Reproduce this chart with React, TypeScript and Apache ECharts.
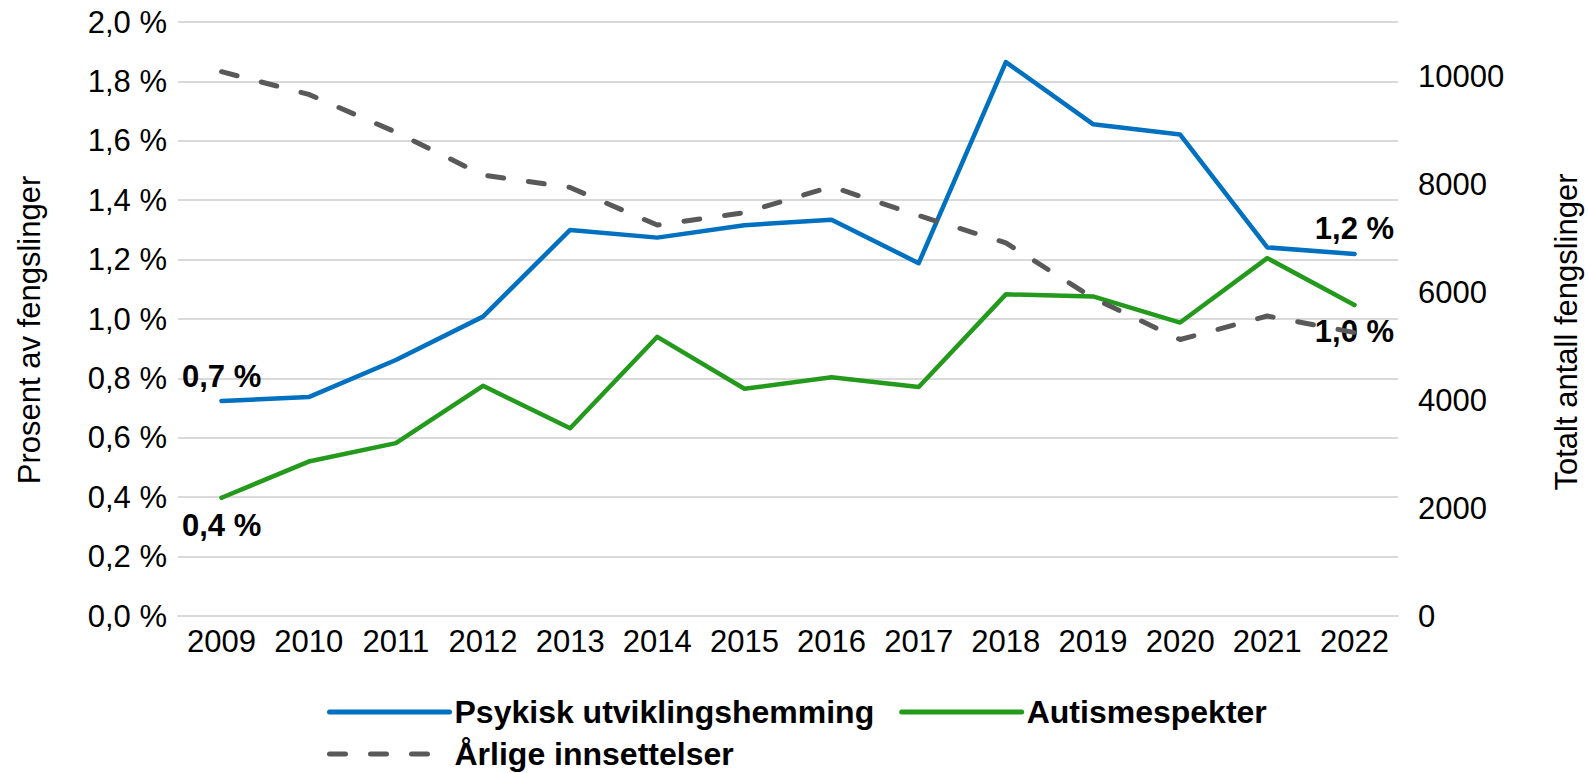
import React, { useEffect, useRef } from "react";
import * as echarts from "echarts";

const years = ["2009", "2010", "2011", "2012", "2013", "2014", "2015", "2016", "2017", "2018", "2019", "2020", "2021", "2022"];
const psykisk = [0.724, 0.737, 0.862, 1.008, 1.3, 1.274, 1.316, 1.334, 1.188, 1.865, 1.656, 1.621, 1.241, 1.219];
const autisme = [0.398, 0.52, 0.582, 0.775, 0.632, 0.94, 0.765, 0.804, 0.771, 1.083, 1.076, 0.988, 1.205, 1.047];
const innsettelser = [10080, 9660, 8960, 8165, 7935, 7240, 7470, 7950, 7415, 6910, 5890, 5120, 5555, 5250];

const seriesNames = ["Psykisk utviklingshemming", "Autismespekter", "Årlige innsettelser"];
const leftAxisName = "Prosent av fengslinger";
const rightAxisName = "Totalt antall fengslinger";

const FONT = "'Liberation Sans', Arial, sans-serif";
const BLUE = "#0070C0";
const GREEN = "#239A1C";
const GREY = "#595959";

const fmtPct = (v: number) => v.toFixed(1).replace(".", ",") + " %";

function withEndLabels(values: number[], pos: "top" | "bottom", d0: number, d1: number, color: string) {
  return values.map((v, i) => {
    if (i === 0 || i === values.length - 1) {
      return {
        value: v,
        symbol: "circle",
        symbolSize: 4,
        itemStyle: { color },
        label: {
          show: true,
          position: pos,
          distance: i === 0 ? d0 : d1,
          formatter: (p: any) => fmtPct(p.value),
          fontFamily: FONT,
          fontSize: 31,
          fontWeight: "bold",
          color: "#000",
        },
      };
    }
    return v;
  });
}

export default function App() {
  const ref = useRef<HTMLDivElement>(null);
  useEffect(() => {
    if (!ref.current) return;
    const chart = echarts.init(ref.current, undefined, { renderer: "svg" });
    chart.setOption({
      animation: false,
      backgroundColor: "#ffffff",
      textStyle: { fontFamily: FONT },
      grid: { left: 178, right: 191, top: 22, bottom: 157, containLabel: false },
      legend: {
        left: 327,
        top: 696,
        width: 1000,
        padding: 0,
        itemGap: 10,
        itemWidth: 120,
        itemHeight: 2,
        data: seriesNames,
        itemStyle: { opacity: 0 },
        lineStyle: { width: 5, cap: "round" },
        textStyle: {
          fontFamily: FONT,
          fontSize: 32,
          fontWeight: "bold",
          color: "#000",
          lineHeight: 32,
          padding: [0, 15, 0, 0],
        },
      },
      xAxis: {
        type: "category",
        data: years,
        boundaryGap: true,
        axisLine: { show: true, lineStyle: { color: "#D9D9D9", width: 2 } },
        axisTick: { show: false },
        axisLabel: { color: "#000", fontSize: 31, fontFamily: FONT, margin: 10, interval: 0 },
      },
      yAxis: [
        {
          type: "value",
          min: 0,
          max: 2.0,
          interval: 0.2,
          axisLine: { show: false },
          axisTick: { show: false },
          splitLine: { show: true, lineStyle: { color: "#D9D9D9", width: 2 } },
          axisLabel: {
            color: "#000",
            fontSize: 31,
            fontFamily: FONT,
            margin: 11,
            formatter: (v: number) => fmtPct(v),
          },
        },
        {
          type: "value",
          min: 0,
          max: 11000,
          interval: 2000,
          position: "right",
          axisLine: { show: false },
          axisTick: { show: false },
          splitLine: { show: false },
          axisLabel: {
            color: "#000",
            fontSize: 31,
            fontFamily: FONT,
            margin: 20,
            showMaxLabel: false,
            formatter: (v: number) => String(v),
          },
        },
      ],
      graphic: [
        {
          type: "text",
          x: 29.5,
          y: 330,
          rotation: Math.PI / 2,
          style: {
            text: leftAxisName,
            fontFamily: FONT,
            fontSize: 31,
            fill: "#000",
            align: "center",
            verticalAlign: "middle",
          },
        },
        {
          type: "text",
          x: 1566.5,
          y: 332,
          rotation: Math.PI / 2,
          style: {
            text: rightAxisName,
            fontFamily: FONT,
            fontSize: 31,
            fill: "#000",
            align: "center",
            verticalAlign: "middle",
          },
        },
      ],
      series: [
        {
          name: seriesNames[0],
          type: "line",
          yAxisIndex: 0,
          symbol: "none",
          data: withEndLabels(psykisk, "top", 7, 8, BLUE),
          lineStyle: { color: BLUE, width: 4.5, cap: "round", join: "round" },
          itemStyle: { color: BLUE },
          z: 2,
        },
        {
          name: seriesNames[1],
          type: "line",
          yAxisIndex: 0,
          symbol: "none",
          data: withEndLabels(autisme, "bottom", 10, 9, GREEN),
          lineStyle: { color: GREEN, width: 4.5, cap: "round", join: "round" },
          itemStyle: { color: GREEN },
          z: 2,
        },
        {
          name: seriesNames[2],
          type: "line",
          yAxisIndex: 1,
          symbol: "none",
          data: innsettelser,
          lineStyle: { color: GREY, width: 5, type: [16, 25], cap: "round", join: "round" },
          itemStyle: { color: GREY },
          z: 3,
        },
      ],
    });
    return () => chart.dispose();
  }, []);
  return (
    <div
      ref={ref}
      style={{ position: "fixed", left: 0, top: 0, width: 1589, height: 773, background: "#fff" }}
    />
  );
}
